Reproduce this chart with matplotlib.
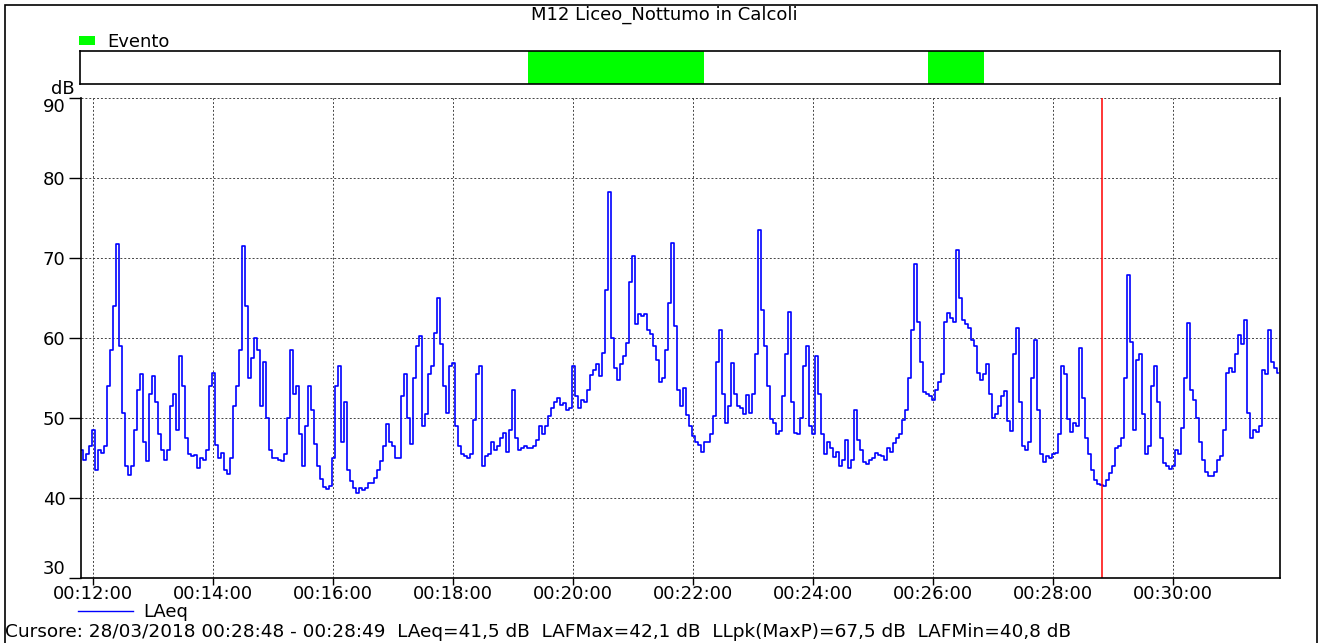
import numpy as np
import matplotlib
matplotlib.use("Agg")
import matplotlib.pyplot as plt
from matplotlib.patches import Rectangle

plt.rcParams['font.family'] = ['DejaVu Sans']

# LAeq samples, one every 3 s starting at 00:11:48 (708 s)
t_start = 708
t_step = 3
laeq_a = [46, 44.8, 45.5, 46.5, 48.5, 43.5, 46, 45.6, 46.5, 54,
          58.5, 64, 71.7, 59, 50.6, 44, 42.9, 44, 48.5, 53.5,
          55.5, 47, 44.6, 53, 55.2, 52, 48, 46, 44.8, 46,
          51.5, 53, 48.5, 57.7, 54, 47.5, 45.5, 45.2, 45.4, 43.8,
          45, 44.8, 46, 54, 55.6, 46.6, 45, 45.6, 43.5, 43,
          45, 51.5, 54, 58.5, 71.5, 64, 55, 57.5, 60, 58.5,
          51.5, 57, 50, 46, 45, 45, 44.8, 44.6, 45.5, 50,
          58.5, 53, 54, 48, 44, 49, 54, 51, 46.8, 44,
          42.4, 41.4, 41.1, 41.5, 45, 54, 56.5, 47, 52, 43.5,
          42.1, 41.3, 40.6, 41.2, 41, 41.2, 41.9, 41.9, 42.5, 43.5,
          44.6]
laeq_b = [46.5, 49.2, 47, 46.5, 45, 45, 52.7, 55.5, 50, 46.8,
          55, 59, 60.2, 49, 50.5, 55.5, 56.5, 60.6, 65, 59.2,
          54, 50.6, 56.5, 56.9, 49, 46.5, 45.5, 45.3, 45, 45.5,
          49.8, 55.5, 56.5, 44, 45.3, 45.5, 47, 46, 46.5, 47.5,
          48.1, 45.8, 48.5, 53.5, 47.5, 46, 46.2, 46.5, 46.2, 46.25,
          46.5, 47.3, 49, 48, 49, 50.2, 51.3, 52, 52.5, 51.6,
          51.9, 51, 51.2, 56.5, 52.7, 51.3, 52.3, 52, 53.5, 55.4,
          56, 56.7, 55.2, 58.1, 66, 78.3, 60, 56.2, 54.8, 56.7,
          57.7, 59.4, 67, 70.2, 61.7, 63, 62.7, 63, 61, 60.5,
          59, 57.2, 54.5, 55, 58.5, 64.4, 71.9, 61.5, 53.5, 51.5]
laeq_c = [53.8, 50.4, 49, 47.7, 47, 46.6, 45.8, 47, 47, 48,
          50.2, 57, 61, 53, 49.4, 51.5, 56.9, 53, 51.5, 51.2,
          50.5, 52.9, 50.6, 53, 58, 73.5, 63.5, 59, 54, 49.9,
          49.4, 48, 48.4, 52.7, 58, 63.3, 52, 48.1, 48, 50,
          56.5, 59, 49, 48, 57.7, 53, 48, 45.5, 47, 46.2,
          45.1, 45.8, 44, 44.8, 47.3, 43.8, 44.7, 51, 47.3, 46,
          44.5, 44.2, 44.7, 45, 45.6, 45.4, 45.2, 44.8, 46.2, 45.8,
          46.9, 47.5, 48, 49.8, 51, 55, 61, 69.3, 62, 57,
          53.3, 53, 52.8, 52.3, 53.5, 54.5, 55.5, 62, 63.1, 62.5,
          62, 71, 65, 62.2, 61.8, 61.3, 59.8, 59, 55.6, 54.7]
laeq_d = [55.5, 56.8, 53, 50, 50.5, 51.5, 52.7, 53.4, 49.6, 48.4,
          58, 61.2, 52, 46.5, 46, 47, 55, 59.8, 51, 45.5,
          44.5, 45.3, 45, 45.5, 45.6, 48, 56.5, 55.5, 49.9, 48.3,
          49.4, 49, 58.7, 52.5, 47.5, 45.5, 43.5, 42.3, 41.7, 41.6,
          41.5, 42.2, 43.1, 44, 46.2, 46.5, 47.5, 55, 67.9, 59.5,
          48.5, 57.3, 58, 50.5, 45.5, 46.5, 54, 56.5, 52, 47.5,
          44.4, 44, 43.6, 44, 46, 45.5, 48.7, 55, 61.9, 53.5,
          52.3, 50, 47, 44.8, 43.3, 42.7, 42.7, 43.3, 44.7, 45.2,
          48.5, 55.6, 56.2, 55.8, 58, 60.4, 59.2, 62.3, 50.6, 47.5,
          48.5, 48.3, 49, 56, 55.5, 61, 57, 56.3, 55.6]
laeq = laeq_a + laeq_b + laeq_c + laeq_d

# "Evento" intervals (seconds from 00:00:00)
event_start = [1156, 1555]
event_end = [1331, 1611]

cursor_t = 1729
x_min, x_max = 708, 1907
tick_secs = [720, 840, 960, 1080, 1200, 1320, 1440, 1560, 1680, 1800]
tick_labels = ["00:12:00", "00:14:00", "00:16:00", "00:18:00", "00:20:00",
               "00:22:00", "00:24:00", "00:26:00", "00:28:00", "00:30:00"]
y_ticks = [30, 40, 50, 60, 70, 80, 90]

title = "M12 Liceo_Nottumo in Calcoli"
cursor_text = ("Cursore: 28/03/2018 00:28:48 - 00:28:49  LAeq=41,5 dB  "
               "LAFMax=42,1 dB  LLpk(MaxP)=67,5 dB  LAFMin=40,8 dB")

W, H = 1325, 643
fig = plt.figure(figsize=(W / 100, H / 100), dpi=100)
fs = 13

# outer frame
fig.add_artist(Rectangle((5 / W, -0.01), 1312 / W, 1.01 - 5 / H,
                         transform=fig.transFigure, fill=False,
                         edgecolor='black', linewidth=1.2))

fig.text(664 / W, 1 - 15 / H, title, ha='center', va='center', fontsize=fs)

# event bar
ev = fig.add_axes([80 / W, 1 - 84 / H, 1200 / W, 33 / H])
for s, e in zip(event_start, event_end):
    ev.axvspan(s, e, color='#00FF00', lw=0)
ev.set_xlim(x_min, x_max)
ev.set_ylim(0, 1)
ev.set_xticks([])
ev.set_yticks([])
for sp in ev.spines.values():
    sp.set_linewidth(1.2)

fig.add_artist(Rectangle((79 / W, 1 - 45 / H), 16 / W, 9 / H,
                         transform=fig.transFigure, color='#00FF00', lw=0))
fig.text(107 / W, 1 - 42 / H, "Evento", ha='left', va='center', fontsize=fs)

# main plot
ax = fig.add_axes([81 / W, 1 - 578 / H, 1199 / W, 480 / H])
t = np.arange(len(laeq)) * t_step + t_start
ax.plot(t, laeq, color='#0000FF', linewidth=1.2, drawstyle='steps-mid')
ax.axvline(cursor_t, color='#FF0000', linewidth=1.1)

ax.set_xlim(x_min, x_max)
ax.set_ylim(30, 90)
ax.set_xticks(tick_secs)
ax.set_xticklabels(tick_labels)
ax.set_yticks(y_ticks)
ax.tick_params(axis='x', direction='out', length=5, width=1,
               labelsize=fs, pad=0)
ax.tick_params(axis='y', direction='out', length=9, width=1,
               labelsize=fs, pad=2)
ylabels = ax.get_yticklabels()
ylabels[0].set_verticalalignment('bottom')
ylabels[-1].set_verticalalignment('top')
ax.grid(True, color='#444444', linestyle=(0, (2, 2)), linewidth=0.7)
ax.spines['top'].set_visible(False)
for sp in ['left', 'right', 'bottom']:
    ax.spines[sp].set_linewidth(1.2)
fig.text(63 / W, 1 - 89 / H, "dB", ha='center', va='center', fontsize=fs)

# legend and cursor info
fig.add_artist(plt.Line2D([78 / W, 133 / W], [1 - 611 / H, 1 - 611 / H],
                          color='#0000FF', linewidth=1.0,
                          transform=fig.transFigure))
fig.text(143 / W, 1 - 612 / H, "LAeq", ha='left', va='center', fontsize=fs)
fig.text(5 / W, 1 - 632 / H, cursor_text, ha='left', va='center',
         fontsize=13.3)

fig.savefig("out.png", dpi=100)
